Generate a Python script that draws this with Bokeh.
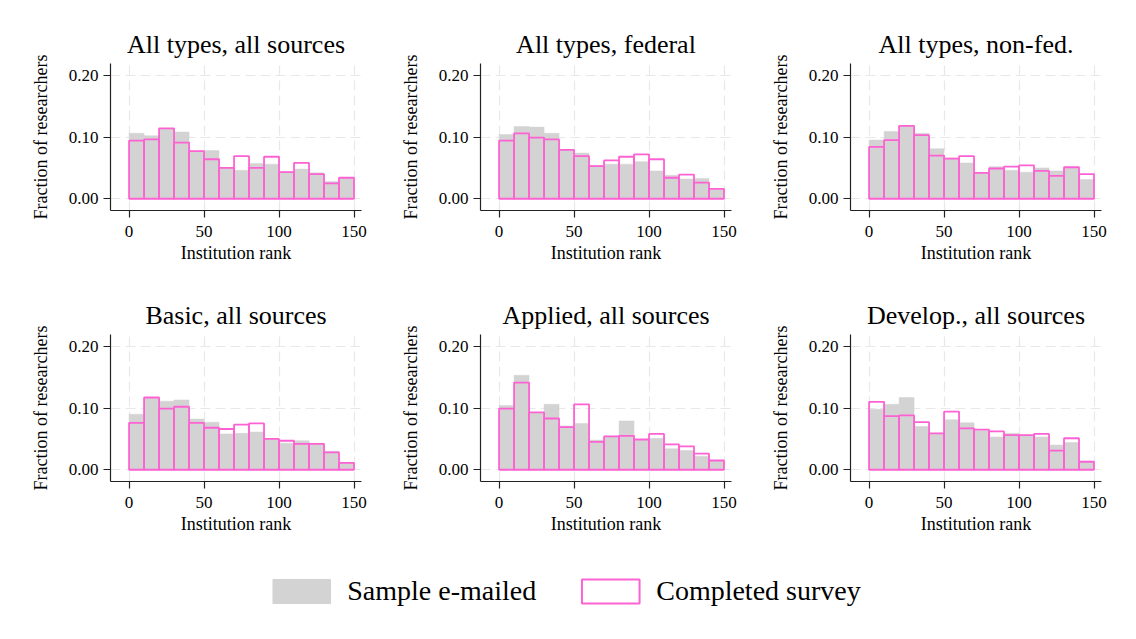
from bokeh.plotting import figure
from bokeh.layouts import gridplot, column
from bokeh.models import (ColumnDataSource, Range1d, FixedTicker, PrintfTickFormatter,
                          Legend, LegendItem)
from bokeh.embed import file_html
from bokeh.resources import INLINE

# ---- data ----
bin_left = [0, 10, 20, 30, 40, 50, 60, 70, 80, 90, 100, 110, 120, 130, 140]
bin_right = [10, 20, 30, 40, 50, 60, 70, 80, 90, 100, 110, 120, 130, 140, 150]

titles = ["All types, all sources", "All types, federal", "All types, non-fed.",
          "Basic, all sources", "Applied, all sources", "Develop., all sources"]

emailed_all_all = [0.106, 0.102, 0.114, 0.108, 0.077, 0.078, 0.050, 0.046, 0.057, 0.056, 0.043, 0.048, 0.042, 0.028, 0.034]
survey_all_all = [0.094, 0.096, 0.114, 0.091, 0.077, 0.064, 0.050, 0.069, 0.050, 0.068, 0.043, 0.058, 0.040, 0.025, 0.034]

emailed_all_fed = [0.104, 0.117, 0.116, 0.106, 0.079, 0.074, 0.054, 0.056, 0.056, 0.060, 0.045, 0.038, 0.032, 0.033, 0.015]
survey_all_fed = [0.094, 0.106, 0.099, 0.096, 0.079, 0.069, 0.053, 0.062, 0.068, 0.072, 0.064, 0.034, 0.039, 0.026, 0.016]

emailed_all_nonfed = [0.095, 0.109, 0.118, 0.106, 0.081, 0.066, 0.058, 0.042, 0.052, 0.046, 0.043, 0.050, 0.045, 0.051, 0.031]
survey_all_nonfed = [0.084, 0.095, 0.118, 0.103, 0.070, 0.065, 0.069, 0.042, 0.049, 0.052, 0.054, 0.045, 0.037, 0.051, 0.040]

emailed_basic = [0.090, 0.117, 0.111, 0.113, 0.082, 0.077, 0.058, 0.059, 0.061, 0.050, 0.043, 0.047, 0.043, 0.030, 0.011]
survey_basic = [0.076, 0.117, 0.099, 0.102, 0.076, 0.068, 0.066, 0.073, 0.075, 0.050, 0.047, 0.042, 0.042, 0.028, 0.011]

emailed_applied = [0.104, 0.153, 0.092, 0.106, 0.071, 0.075, 0.048, 0.054, 0.079, 0.049, 0.051, 0.034, 0.031, 0.022, 0.015]
survey_applied = [0.099, 0.141, 0.093, 0.083, 0.069, 0.106, 0.045, 0.054, 0.055, 0.049, 0.058, 0.041, 0.038, 0.026, 0.015]

emailed_develop = [0.098, 0.106, 0.117, 0.070, 0.059, 0.081, 0.076, 0.063, 0.053, 0.059, 0.056, 0.053, 0.040, 0.044, 0.013]
survey_develop = [0.110, 0.087, 0.088, 0.077, 0.059, 0.094, 0.067, 0.065, 0.062, 0.056, 0.056, 0.058, 0.031, 0.051, 0.013]

emailed = [emailed_all_all, emailed_all_fed, emailed_all_nonfed, emailed_basic, emailed_applied, emailed_develop]
survey = [survey_all_all, survey_all_fed, survey_all_nonfed, survey_basic, survey_applied, survey_develop]

x_ticks = [0, 50, 100, 150]
y_ticks = [0.0, 0.1, 0.2]

legend_labels = ["Sample e-mailed", "Completed survey"]

# ---- style ----
FONT = "Liberation Serif"
GRAY = "#d3d3d3"
PINK = "#fe62d2"

figs = []
for i in range(6):
    src = ColumnDataSource(dict(left=bin_left, right=bin_right, emailed=emailed[i], survey=survey[i],
                                zero=[0.0] * len(bin_left)))
    p = figure(width=370, height=271, output_backend="svg", toolbar_location=None,
               x_range=Range1d(-12.4, 155), y_range=Range1d(-0.019, 0.219),
               min_border_left=102, min_border_right=17, min_border_top=55, min_border_bottom=69,
               title=titles[i])
    p.quad(left="left", right="right", bottom="zero", top="emailed", source=src,
           fill_color=GRAY, line_color=GRAY, line_width=0.5)
    p.quad(left="left", right="right", bottom="zero", top="survey", source=src,
           fill_color=None, line_color=PINK, line_width=1.8)

    p.title.text_font = FONT
    p.title.text_font_style = "normal"
    p.title.text_font_size = "26px"
    p.title.align = "center"
    p.title.text_color = "black"
    p.title.standoff = 9

    p.outline_line_color = None
    p.background_fill_color = "white"
    p.border_fill_color = "white"

    p.xaxis.ticker = FixedTicker(ticks=x_ticks)
    p.yaxis.ticker = FixedTicker(ticks=y_ticks)
    p.yaxis.formatter = PrintfTickFormatter(format="%.2f")
    p.xaxis.axis_label = "Institution rank"
    p.yaxis.axis_label = "Fraction of researchers"
    for ax in (p.xaxis[0], p.yaxis[0]):
        ax.axis_label_text_font = FONT
        ax.axis_label_text_font_style = "normal"
        ax.axis_label_text_font_size = "18px"
        ax.axis_label_text_color = "black"
        ax.major_label_text_font = FONT
        ax.major_label_text_font_size = "17px"
        ax.major_label_text_color = "black"
        ax.axis_line_color = "#222222"
        ax.axis_line_width = 1.2
        ax.major_tick_line_color = "#222222"
        ax.major_tick_line_width = 1.2
        ax.major_tick_out = 7
        ax.major_tick_in = 0
        ax.minor_tick_line_color = None
    p.xaxis.major_label_standoff = 8
    p.xaxis.axis_label_standoff = 3
    p.yaxis.major_label_standoff = 5
    p.yaxis.axis_label_standoff = 15

    p.xgrid.ticker = FixedTicker(ticks=x_ticks)
    p.ygrid.ticker = FixedTicker(ticks=y_ticks)
    for g in (p.xgrid[0], p.ygrid[0]):
        g.grid_line_color = "#e8e8e8"
        g.grid_line_width = 1.2
        g.grid_line_dash = "10 5"
    figs.append(p)

grid = gridplot(figs, ncols=3, toolbar_location=None)

# ---- legend panel ----
lg = figure(width=1110, height=82, output_backend="svg", toolbar_location=None,
            x_range=Range1d(0, 1), y_range=Range1d(0, 1),
            min_border_left=0, min_border_right=0, min_border_top=0, min_border_bottom=0)
lg.axis.visible = False
lg.grid.visible = False
lg.outline_line_color = None
nan = float("nan")
r1 = lg.quad(left=[nan], right=[nan], top=[nan], bottom=[nan], fill_color=GRAY, line_color=GRAY)
r2 = lg.quad(left=[nan], right=[nan], top=[nan], bottom=[nan], fill_color=None, line_color=PINK, line_width=2)
legend = Legend(items=[LegendItem(label=legend_labels[0], renderers=[r1]),
                       LegendItem(label=legend_labels[1], renderers=[r2])],
                orientation="horizontal", location="center",
                glyph_width=72, glyph_height=30, label_standoff=10, spacing=38,
                label_text_font=FONT, label_text_font_size="28px", label_text_color="black",
                label_height=30, border_line_color=None, background_fill_alpha=0,
                padding=0, margin=0)
lg.add_layout(legend, "center")

layout = column(grid, lg, margin=(8, 0, 0, 8))
open("out.html", "w").write(file_html(layout, INLINE))
